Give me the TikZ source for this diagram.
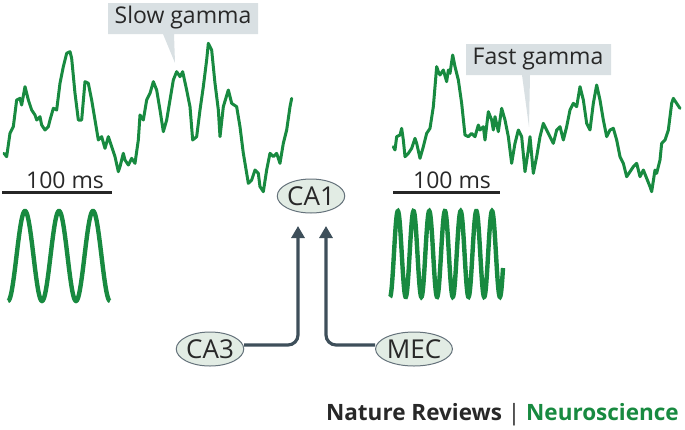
\documentclass[tikz,border=0pt]{standalone}
\usepackage{fontspec}
\setmainfont{Open Sans}
\usetikzlibrary{arrows.meta,shapes.geometric}
\definecolor{ngreen}{RGB}{24,138,64}
\definecolor{slate}{RGB}{62,79,90}
\definecolor{callout}{RGB}{217,224,227}
\definecolor{nodefill}{RGB}{226,236,228}
\definecolor{txt}{RGB}{40,40,40}
\tikzset{
  trace/.style={ngreen, line width=3pt, line join=round, line cap=round},
  sinewave/.style={ngreen, line width=4.4pt},
  scalebar/.style={black!85, line width=3pt},
  callbox/.style={fill=callout, draw=none},
  calltext/.style={text=txt, font=\fontsize{23}{26}\selectfont, inner sep=0pt},
  bartext/.style={text=txt, font=\fontsize{23}{26}\selectfont, inner sep=0pt, anchor=base},
  region/.style={ellipse, draw=slate!80, line width=1pt, fill=nodefill, minimum width=66pt, minimum height=34pt, inner sep=0pt, text=txt, font=\fontsize{26}{28}\selectfont},
  arr/.style={slate, line width=3.2pt, rounded corners=10pt, -{Triangle[width=13pt,length=12pt]}}
}
\begin{document}
\begin{tikzpicture}[x=1pt,y=-1pt]
\useasboundingbox (0,0) rectangle (685,429);
% callouts
\path[callbox] (108,3) -- (258,3) -- (258,34) -- (174,34) -- (175,63) -- (163,34) -- (108,34) -- cycle;
\node[calltext] (slow) at (183,18) {Slow gamma};
\path[callbox] (466,44) -- (611,44) -- (611,75) -- (530,75) -- (529,127) -- (522,75) -- (466,75) -- cycle;
\node[calltext] (fast) at (538,59) {Fast gamma};
% left trace
\begin{scope}[scale=1/3]
\draw[trace] (12,460)--(20,470)--(30,400)--(40,380)--(50,300)--(60,295)--(65,315)--(75,260)--(85,300)--(95,330)--(105,345)--(110,360)--(120,350)--(125,375)--(135,390)--(145,380)--(150,360)--(160,325)--(170,330)--(180,250)--(190,200)--(200,160)--(210,155)--(215,175)--(225,280)--(235,360)--(245,360)--(255,245)--(265,250)--(275,300)--(285,360)--(295,420)--(305,410)--(315,445)--(325,410)--(335,440)--(345,470)--(355,515)--(360,500)--(370,460)--(375,480)--(385,495)--(395,475)--(405,490)--(415,420)--(420,345)--(430,360)--(440,300)--(450,280)--(460,245)--(470,270)--(480,330)--(490,395)--(500,360)--(510,300)--(520,240)--(530,215)--(540,230)--(548,215)--(560,270)--(570,320)--(578,420)--(590,410)--(600,330)--(610,260)--(620,180)--(625,130)--(635,150)--(645,250)--(655,330)--(660,410)--(670,320)--(685,270)--(695,310)--(710,320)--(720,380)--(730,460)--(745,550)--(755,540)--(765,510)--(775,520)--(780,560)--(790,575)--(800,510)--(810,460)--(820,470)--(830,460)--(840,490)--(850,430)--(860,390)--(870,320)--(875,295);
\end{scope}
% right trace
\begin{scope}[shift={(370,30)},scale=1/3]
\draw[trace] (70,350)--(75,360)--(80,320)--(90,315)--(95,295)--(100,330)--(105,380)--(115,370)--(125,355)--(135,325)--(140,340)--(150,385)--(160,350)--(170,310)--(180,295)--(190,230)--(200,110)--(205,125)--(210,135)--(220,120)--(230,155)--(235,120)--(240,130)--(248,75)--(255,110)--(265,150)--(275,220)--(285,315)--(295,320)--(305,310)--(315,320)--(325,285)--(330,300)--(340,290)--(345,330)--(355,245)--(365,270)--(370,300)--(375,260)--(385,305)--(395,235)--(405,270)--(415,320)--(425,400)--(435,340)--(445,300)--(455,320)--(465,425)--(475,360)--(480,320)--(490,430)--(500,380)--(510,320)--(520,280)--(530,300)--(540,320)--(550,340)--(560,300)--(570,290)--(580,330)--(590,290)--(600,240)--(610,220)--(620,230)--(630,170)--(640,210)--(650,280)--(660,300)--(670,220)--(680,165)--(690,210)--(700,270)--(710,320)--(720,300)--(730,295)--(740,330)--(750,380)--(760,400)--(770,440)--(780,425)--(790,410)--(800,400)--(810,440)--(820,420)--(830,445)--(840,470)--(845,485)--(855,420)--(860,430)--(870,390)--(875,340)--(885,330)--(895,300)--(905,220)--(910,205)--(920,220)--(930,235);
\end{scope}
% scale bars
\coordinate (lb1) at (2,192); \coordinate (lb2) at (112,192);
\draw[scalebar] (lb1) -- (lb2);
\node[bartext] (lbt) at (65,188) {100 ms};
\coordinate (rb1) at (393,192); \coordinate (rb2) at (500,192);
\draw[scalebar] (rb1) -- (rb2);
\node[bartext] (rbt) at (452,188) {100 ms};
% sine waves
\draw[sinewave] plot[domain=8:110, samples=160] (\x, {256 + 45*cos((\x-8)/34*360)});
\draw[sinewave] plot[domain=390:503, samples=300] (\x, {254 + 43*cos((\x-390)/15.7*360)});
% nodes
\node[region] (ca1) at (311,196) {CA1};
\node[region] (ca3) at (210,349) {CA3};
\node[region] (mec) at (414,349) {MEC};
\coordinate (t1) at (298,226);
\coordinate (t2) at (326,226);
\draw[arr] ([yshift=4pt]ca3.east) -| (t1);
\draw[arr] ([yshift=4pt]mec.west) -| (t2);
% footer
\node[anchor=base east, inner sep=0pt, font=\fontsize{22.5}{26}\selectfont\bfseries] (footer) at (679,420) {\textcolor{txt}{Nature Reviews} \textcolor{txt}{\fontseries{m}\selectfont|} \textcolor{ngreen}{Neuroscience}};
\end{tikzpicture}
\end{document}
